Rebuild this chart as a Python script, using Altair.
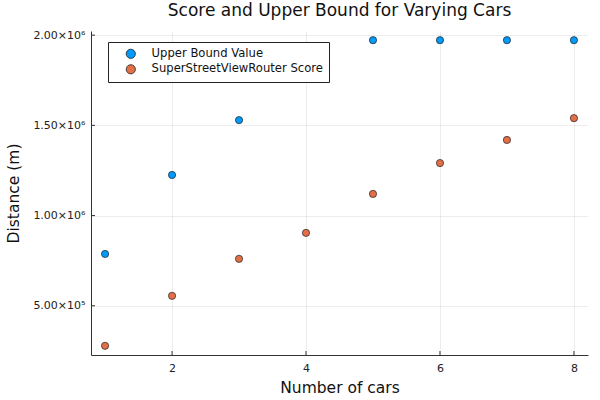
import altair as alt
import pandas as pd

cars = [1, 2, 3, 4, 5, 6, 7, 8]
upper_bound = [787000, 1225000, 1529000, None, 1972000, 1972000, 1972000, 1972000]
score = [278000, 555000, 760000, 904000, 1120000, 1291000, 1419000, 1540000]
series = ["Upper Bound Value", "SuperStreetViewRouter Score"]
colors = ["#009AFA", "#E36F47"]
x_ticks = [2, 4, 6, 8]
y_ticks = [500000, 1000000, 1500000, 2000000]

rows = []
for c, u in zip(cars, upper_bound):
    if u is not None:
        rows.append({"cars": c, "value": u, "series": series[0]})
for c, s in zip(cars, score):
    rows.append({"cars": c, "value": s, "series": series[1]})
df = pd.DataFrame(rows)

W, H = 497, 324
xdom = [0.79, 8.21]
ydom = [227000, 2023000]
FONT = "DejaVu Sans"

xscale = alt.Scale(domain=xdom, nice=False, zero=False)
yscale = alt.Scale(domain=ydom, nice=False, zero=False)

ylabel = ("datum.value >= 1000000 ? format(datum.value/1000000, '.2f') + '×10⁶' : "
          "format(datum.value/100000, '.2f') + '×10⁵'")

axis_common = dict(grid=True, ticks=False, labelFont=FONT, labelFontSize=11, labelColor="#222222",
                   titleFont=FONT, titleFontSize=15.5, titleFontWeight="normal", titleColor="#111111",
                   domainColor="#333333", domainWidth=1, gridColor="#000000", gridOpacity=0.07)

x_axis = alt.Axis(values=x_ticks, title="Number of cars", format="d",
                  labelPadding=7, titlePadding=7, **axis_common)
y_axis = alt.Axis(values=y_ticks, title="Distance (m)",
                  labelExpr=ylabel, labelPadding=6, titlePadding=11, **axis_common)

points = alt.Chart(df).mark_point(filled=True, size=52, stroke="#222222", strokeWidth=0.7, opacity=1).encode(
    x=alt.X("cars:Q", scale=xscale, axis=x_axis),
    y=alt.Y("value:Q", scale=yscale, axis=y_axis),
    color=alt.Color("series:N", scale=alt.Scale(domain=series, range=colors),
                    legend=alt.Legend(title=None, orient="none", legendX=17, legendY=11,
                                      strokeColor="#222222", padding=6, fillColor="white",
                                      symbolType="circle", symbolSize=85, symbolStrokeWidth=0.8,
                                      symbolStrokeColor="#222222", labelFontSize=11.6,
                                      labelFont=FONT, labelColor="#111111", rowPadding=1.5,
                                      labelLimit=0, symbolOffset=11, labelOffset=15)),
)

xt = pd.DataFrame({"t": x_ticks})
yt = pd.DataFrame({"t": y_ticks})
xticks = alt.Chart(xt).mark_rule(color="#333333", strokeWidth=1).encode(
    x=alt.X("t:Q", scale=xscale, axis=x_axis), y=alt.value(H), y2=alt.value(H - 4))
yticks = alt.Chart(yt).mark_rule(color="#333333", strokeWidth=1).encode(
    y=alt.Y("t:Q", scale=yscale, axis=y_axis), x=alt.value(0), x2=alt.value(4))

chart = alt.layer(points, xticks, yticks).properties(
    width=W, height=H, background="white",
    title=alt.TitleParams("Score and Upper Bound for Varying Cars", fontSize=17, font=FONT,
                          fontWeight="normal", color="#111111", offset=9),
    autosize=alt.AutoSizeParams(type="none"),
    padding={"left": 91, "top": 31, "right": 12, "bottom": 45},
).configure_view(stroke=None)

chart.save("out.html", embed_options={"renderer": "svg", "actions": False})
